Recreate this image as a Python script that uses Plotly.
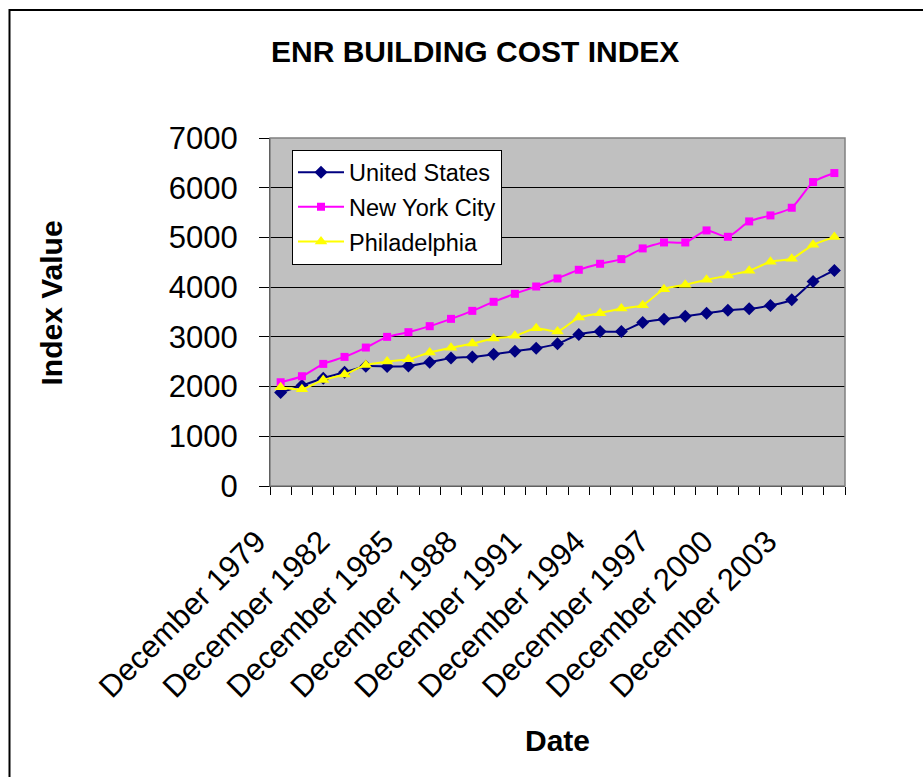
import plotly.graph_objects as go

years = list(range(1979, 2006))
categories = [f"December {y}" for y in years]
label_years = [1979, 1982, 1985, 1988, 1991, 1994, 1997, 2000, 2003]

united_states = [1879, 2020, 2168, 2289, 2409, 2403, 2416, 2490, 2577, 2597,
                 2651, 2711, 2772, 2859, 3047, 3107, 3107, 3289, 3356, 3416,
                 3477, 3537, 3564, 3631, 3745, 4114, 4336]
new_york_city = [2087, 2208, 2456, 2597, 2785, 3000, 3094, 3215, 3362, 3523,
                 3705, 3866, 4013, 4174, 4349, 4470, 4564, 4779, 4899, 4899,
                 5141, 5013, 5322, 5443, 5597, 6114, 6295]
philadelphia = [1987, 1946, 2134, 2242, 2436, 2503, 2550, 2685, 2779, 2866,
                2966, 3020, 3174, 3107, 3389, 3477, 3570, 3638, 3960, 4047,
                4148, 4235, 4329, 4510, 4570, 4852, 5007]

y_ticks = [0, 1000, 2000, 3000, 4000, 5000, 6000, 7000]

FONT = "Liberation Sans, Arial, sans-serif"
idx = list(range(len(categories)))

fig = go.Figure()
fig.add_trace(go.Scatter(
    x=idx, y=united_states, name="United States", mode="lines+markers",
    legendgroup="us",
    line=dict(color="#000080", width=2, shape="spline", smoothing=0.6),
    marker=dict(symbol="diamond", size=10, color="#000080"),
    text=categories, hoverinfo="text+y"))
fig.add_trace(go.Scatter(
    x=idx, y=new_york_city, name="New York City", mode="lines+markers",
    legendgroup="nyc",
    line=dict(color="#FF00FF", width=2, shape="spline", smoothing=0.6),
    marker=dict(symbol="square", size=8, color="#FF00FF"),
    text=categories, hoverinfo="text+y"))
fig.add_trace(go.Scatter(
    x=idx, y=philadelphia, name="Philadelphia", mode="lines+markers",
    legendgroup="phl",
    line=dict(color="#FFFF00", width=2, shape="spline", smoothing=0.6),
    marker=dict(symbol="triangle-up", size=11, color="#FFFF00"),
    text=categories, hoverinfo="text+y"))

L, R, T, B = 270, 845, 138, 486
W, H = R - L, B - T
def px(x):
    return (x - L) / W
def py(y):
    return (B - y) / H

tick_idx = [years.index(y) for y in label_years]
fig.update_layout(
    width=923, height=777,
    margin=dict(l=L, r=923 - R, t=T, b=777 - B, pad=0),
    paper_bgcolor="white", plot_bgcolor="#C0C0C0",
    font=dict(family=FONT, color="black"),
    showlegend=True,
    legend=dict(x=px(292), y=py(149.5), xanchor="left", yanchor="top",
                bgcolor="white", bordercolor="black", borderwidth=1,
                itemwidth=46, tracegroupgap=1,
                font=dict(size=23.5, family=FONT)),
    xaxis=dict(range=[-0.5, len(categories) - 0.5], showgrid=False, zeroline=False,
               tickmode="array", tickvals=tick_idx,
               ticktext=[categories[i] for i in tick_idx],
               tickangle=-45, ticks="", tickfont=dict(size=31, family=FONT),
               ticklabelshift=-24, ticklabelstandoff=24,
               showline=True, linecolor="black", linewidth=1,
               minor=dict(tickmode="array",
                          tickvals=[i - 0.5 for i in range(len(categories) + 1)],
                          ticks="outside", ticklen=8, tickcolor="black", showgrid=False)),
    yaxis=dict(range=[0, 7000], tickvals=y_ticks, showgrid=True, gridcolor="black",
               gridwidth=1, zeroline=False, ticks="outside", ticklen=10,
               tickcolor="black", showline=True, linecolor="black", linewidth=1,
               ticklabelstandoff=15,
               tickfont=dict(size=31, family=FONT)),
    shapes=[
        dict(type="rect", xref="paper", yref="paper", x0=0, x1=1, y0=0, y1=1,
             line=dict(color="#808080", width=1.5)),
        dict(type="rect", xref="paper", yref="paper", x0=px(9.5), x1=px(940),
             y0=py(800), y1=py(10), line=dict(color="black", width=2)),
    ],
    annotations=[
        dict(text="<b>ENR BUILDING COST INDEX</b>", xref="paper", yref="paper",
             x=px(474.5), y=py(52), xanchor="center", yanchor="middle",
             showarrow=False, font=dict(size=30, family=FONT)),
        dict(text="<b>Date</b>", xref="paper", yref="paper",
             x=px(557), y=py(740), xanchor="center", yanchor="middle",
             showarrow=False, font=dict(size=30, family=FONT)),
        dict(text="<b>Index Value</b>", xref="paper", yref="paper",
             x=px(51), y=py(303.5), xanchor="center", yanchor="middle",
             textangle=-90, showarrow=False, font=dict(size=30, family=FONT)),
    ],
)
fig.write_html("out.html")
